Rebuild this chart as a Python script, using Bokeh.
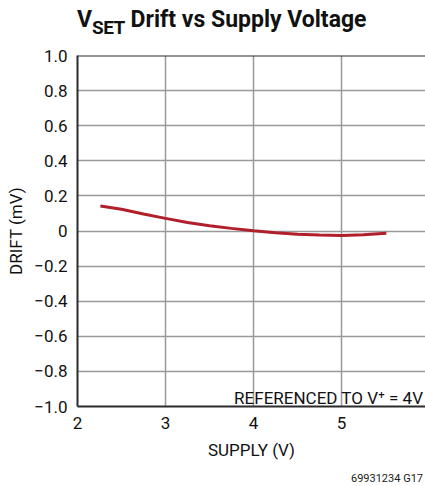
from bokeh.plotting import figure
from bokeh.models import Label, Span, FixedTicker, CustomJSTickFormatter, Range1d, Div
from bokeh.layouts import column
from bokeh.embed import file_html
from bokeh.resources import INLINE

supply_v = [2.26, 2.5, 2.75, 3.0, 3.25, 3.5, 3.75, 4.0, 4.25, 4.5, 4.75, 5.0, 5.25, 5.51]
drift_mv = [0.143, 0.124, 0.097, 0.072, 0.049, 0.030, 0.015, 0.002, -0.010, -0.018, -0.023, -0.025, -0.022, -0.013]
x_ticks = [2, 3, 4, 5]
y_ticks = [-1.0, -0.8, -0.6, -0.4, -0.2, 0.0, 0.2, 0.4, 0.6, 0.8, 1.0]

FONT = "Roboto"
DARK = "#2b2b2b"
TXT = "#111111"

title_div = Div(
    text=('V<span style="font-size:19px; letter-spacing:-0.5px; position:relative; top:7px;">SET</span>'
          ' Drift vs Supply Voltage'),
    width=425, height=40,
    styles={"font-family": "Roboto", "font-weight": "bold", "font-size": "23px",
            "line-height": "1", "padding-top": "8px", "padding-left": "77px",
            "color": TXT, "white-space": "nowrap", "margin": "0"},
)

p = figure(width=425, height=430, output_backend="svg", toolbar_location=None,
           x_range=Range1d(2, 5.955), y_range=Range1d(-1, 1),
           min_border_left=77, min_border_top=15, min_border_bottom=64, min_border_right=0)
p.title = None
p.outline_line_color = None
p.background_fill_color = "white"

p.line(supply_v, drift_mv, line_color="#b01f2a", line_width=3)

for ax in (p.xaxis[0], p.yaxis[0]):
    ax.axis_line_color = DARK
    ax.axis_line_width = 2
    ax.major_tick_line_color = None
    ax.minor_tick_line_color = None
    ax.major_label_text_font = FONT
    ax.major_label_text_font_size = "17px"
    ax.major_label_text_color = TXT
    ax.axis_label_text_font = FONT
    ax.axis_label_text_font_size = "17px"
    ax.axis_label_text_font_style = "normal"
    ax.axis_label_text_color = TXT

p.xaxis.ticker = FixedTicker(ticks=x_ticks)
p.yaxis.ticker = FixedTicker(ticks=y_ticks)
p.xaxis.major_label_standoff = 4
p.yaxis.major_label_standoff = 4
p.yaxis.formatter = CustomJSTickFormatter(code="""
  if (Math.abs(tick) < 1e-9) return '0';
  return (tick < 0 ? '\u2212' : '') + Math.abs(tick).toFixed(1);
""")
p.xaxis.axis_label = "SUPPLY (V)"
p.yaxis.axis_label = "DRIFT (mV)"
p.xaxis.axis_label_standoff = 8
p.yaxis.axis_label_standoff = 5

p.xgrid.ticker = FixedTicker(ticks=x_ticks)
p.ygrid.ticker = FixedTicker(ticks=y_ticks)
p.grid.grid_line_color = "#999999"
p.grid.grid_line_width = 1.5

p.add_layout(Span(location=1.0, dimension="width", line_color=DARK, line_width=2))

p.add_layout(Label(x=5.93, y=-0.954, text="REFERENCED TO V\u207a = 4V",
                   text_font=FONT, text_font_size="17px", text_align="right",
                   text_baseline="alphabetic", text_color=TXT))

footer_div = Div(
    text="69931234 G17", width=425, height=16,
    styles={"font-family": "Roboto", "font-size": "11px", "line-height": "1",
            "padding-top": "3px", "text-align": "right", "padding-right": "2px",
            "color": "#222222", "margin": "0", "box-sizing": "border-box",
            "width": "425px", "height": "16px", "overflow": "visible"},
)

layout = column(title_div, p, footer_div, spacing=0)
open("out.html", "w").write(file_html(layout, INLINE))
